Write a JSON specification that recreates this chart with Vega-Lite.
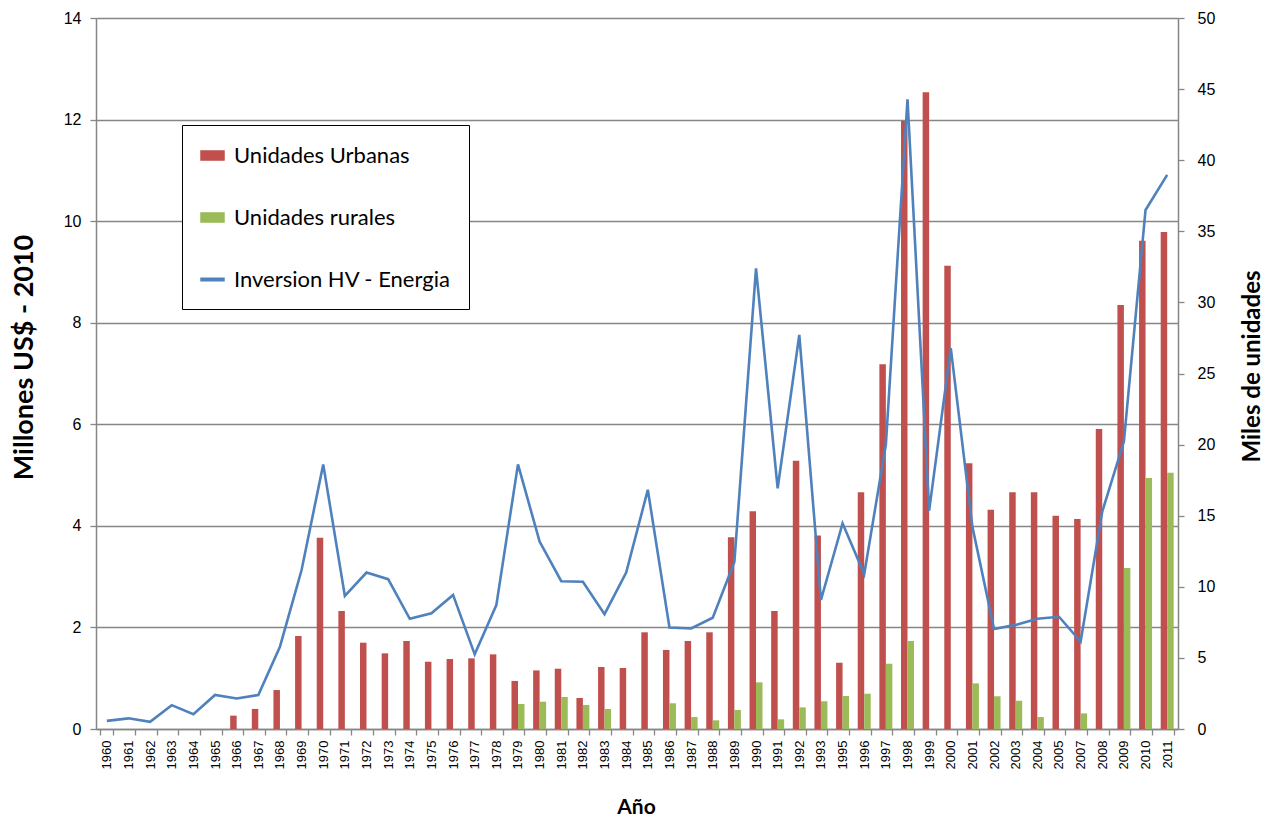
{
  "$schema": "https://vega.github.io/schema/vega-lite/v6.json",
  "width": 1082,
  "height": 711,
  "autosize": {"type": "none"},
  "padding": {"left": 96, "top": 18, "right": 89, "bottom": 90},
  "background": "white",
  "config": {
    "view": {"stroke": null},
    "axis": {
      "domainColor": "#868686",
      "domainWidth": 1.5,
      "tickColor": "#868686",
      "tickWidth": 1.3,
      "tickSize": 6,
      "gridColor": "#868686",
      "gridWidth": 1.4,
      "labelFont": "Liberation Sans",
      "labelFontSize": 16,
      "labelColor": "#000000",
      "titleFont": "Lato",
      "titleFontWeight": "bold",
      "titleFontSize": 26,
      "titleColor": "#000000"
    }
  },
  "datasets": {
    "unidades": [
      {"anio": "1966", "serie": "Unidades Urbanas", "miles": 0.94},
      {"anio": "1967", "serie": "Unidades Urbanas", "miles": 1.41},
      {"anio": "1968", "serie": "Unidades Urbanas", "miles": 2.74},
      {"anio": "1969", "serie": "Unidades Urbanas", "miles": 6.54},
      {"anio": "1970", "serie": "Unidades Urbanas", "miles": 13.45},
      {"anio": "1971", "serie": "Unidades Urbanas", "miles": 8.3},
      {"anio": "1972", "serie": "Unidades Urbanas", "miles": 6.07},
      {"anio": "1973", "serie": "Unidades Urbanas", "miles": 5.32},
      {"anio": "1974", "serie": "Unidades Urbanas", "miles": 6.19},
      {"anio": "1975", "serie": "Unidades Urbanas", "miles": 4.73},
      {"anio": "1976", "serie": "Unidades Urbanas", "miles": 4.92},
      {"anio": "1977", "serie": "Unidades Urbanas", "miles": 4.97},
      {"anio": "1978", "serie": "Unidades Urbanas", "miles": 5.25},
      {"anio": "1979", "serie": "Unidades Urbanas", "miles": 3.38},
      {"anio": "1980", "serie": "Unidades Urbanas", "miles": 4.12},
      {"anio": "1981", "serie": "Unidades Urbanas", "miles": 4.24},
      {"anio": "1982", "serie": "Unidades Urbanas", "miles": 2.18},
      {"anio": "1983", "serie": "Unidades Urbanas", "miles": 4.36},
      {"anio": "1984", "serie": "Unidades Urbanas", "miles": 4.29},
      {"anio": "1985", "serie": "Unidades Urbanas", "miles": 6.8},
      {"anio": "1986", "serie": "Unidades Urbanas", "miles": 5.56},
      {"anio": "1987", "serie": "Unidades Urbanas", "miles": 6.19},
      {"anio": "1988", "serie": "Unidades Urbanas", "miles": 6.8},
      {"anio": "1989", "serie": "Unidades Urbanas", "miles": 13.48},
      {"anio": "1990", "serie": "Unidades Urbanas", "miles": 15.31},
      {"anio": "1991", "serie": "Unidades Urbanas", "miles": 8.3},
      {"anio": "1992", "serie": "Unidades Urbanas", "miles": 18.87},
      {"anio": "1993", "serie": "Unidades Urbanas", "miles": 13.6},
      {"anio": "1995", "serie": "Unidades Urbanas", "miles": 4.66},
      {"anio": "1996", "serie": "Unidades Urbanas", "miles": 16.65},
      {"anio": "1997", "serie": "Unidades Urbanas", "miles": 25.65},
      {"anio": "1998", "serie": "Unidades Urbanas", "miles": 42.76},
      {"anio": "1999", "serie": "Unidades Urbanas", "miles": 44.77},
      {"anio": "2000", "serie": "Unidades Urbanas", "miles": 32.58},
      {"anio": "2001", "serie": "Unidades Urbanas", "miles": 18.68},
      {"anio": "2002", "serie": "Unidades Urbanas", "miles": 15.42},
      {"anio": "2003", "serie": "Unidades Urbanas", "miles": 16.65},
      {"anio": "2004", "serie": "Unidades Urbanas", "miles": 16.65},
      {"anio": "2005", "serie": "Unidades Urbanas", "miles": 15.0},
      {"anio": "2007", "serie": "Unidades Urbanas", "miles": 14.77},
      {"anio": "2008", "serie": "Unidades Urbanas", "miles": 21.1},
      {"anio": "2009", "serie": "Unidades Urbanas", "miles": 29.82},
      {"anio": "2010", "serie": "Unidades Urbanas", "miles": 34.34},
      {"anio": "2011", "serie": "Unidades Urbanas", "miles": 34.95},
      {"anio": "1979", "serie": "Unidades rurales", "miles": 1.76},
      {"anio": "1980", "serie": "Unidades rurales", "miles": 1.92},
      {"anio": "1981", "serie": "Unidades rurales", "miles": 2.25},
      {"anio": "1982", "serie": "Unidades rurales", "miles": 1.69},
      {"anio": "1983", "serie": "Unidades rurales", "miles": 1.41},
      {"anio": "1986", "serie": "Unidades rurales", "miles": 1.81},
      {"anio": "1987", "serie": "Unidades rurales", "miles": 0.84},
      {"anio": "1988", "serie": "Unidades rurales", "miles": 0.61},
      {"anio": "1989", "serie": "Unidades rurales", "miles": 1.34},
      {"anio": "1990", "serie": "Unidades rurales", "miles": 3.28},
      {"anio": "1991", "serie": "Unidades rurales", "miles": 0.68},
      {"anio": "1992", "serie": "Unidades rurales", "miles": 1.52},
      {"anio": "1993", "serie": "Unidades rurales", "miles": 1.95},
      {"anio": "1995", "serie": "Unidades rurales", "miles": 2.32},
      {"anio": "1996", "serie": "Unidades rurales", "miles": 2.48},
      {"anio": "1997", "serie": "Unidades rurales", "miles": 4.59},
      {"anio": "1998", "serie": "Unidades rurales", "miles": 6.19},
      {"anio": "2001", "serie": "Unidades rurales", "miles": 3.21},
      {"anio": "2002", "serie": "Unidades rurales", "miles": 2.3},
      {"anio": "2003", "serie": "Unidades rurales", "miles": 1.99},
      {"anio": "2004", "serie": "Unidades rurales", "miles": 0.84},
      {"anio": "2007", "serie": "Unidades rurales", "miles": 1.1},
      {"anio": "2009", "serie": "Unidades rurales", "miles": 11.32},
      {"anio": "2010", "serie": "Unidades rurales", "miles": 17.65},
      {"anio": "2011", "serie": "Unidades rurales", "miles": 18.02}
    ],
    "inversion": [
      {"anio": "1960", "millones": 0.16},
      {"anio": "1961", "millones": 0.21},
      {"anio": "1962", "millones": 0.14},
      {"anio": "1963", "millones": 0.47},
      {"anio": "1964", "millones": 0.29},
      {"anio": "1965", "millones": 0.67},
      {"anio": "1966", "millones": 0.6},
      {"anio": "1967", "millones": 0.67},
      {"anio": "1968", "millones": 1.62},
      {"anio": "1969", "millones": 3.13},
      {"anio": "1970", "millones": 5.21},
      {"anio": "1971", "millones": 2.62},
      {"anio": "1972", "millones": 3.08},
      {"anio": "1973", "millones": 2.95},
      {"anio": "1974", "millones": 2.17},
      {"anio": "1975", "millones": 2.28},
      {"anio": "1976", "millones": 2.64},
      {"anio": "1977", "millones": 1.47},
      {"anio": "1978", "millones": 2.44},
      {"anio": "1979", "millones": 5.21},
      {"anio": "1980", "millones": 3.69},
      {"anio": "1981", "millones": 2.91},
      {"anio": "1982", "millones": 2.9},
      {"anio": "1983", "millones": 2.26},
      {"anio": "1984", "millones": 3.08},
      {"anio": "1985", "millones": 4.71},
      {"anio": "1986", "millones": 2.0},
      {"anio": "1987", "millones": 1.98},
      {"anio": "1988", "millones": 2.19},
      {"anio": "1989", "millones": 3.29},
      {"anio": "1990", "millones": 9.07},
      {"anio": "1991", "millones": 4.74},
      {"anio": "1992", "millones": 7.76},
      {"anio": "1993", "millones": 2.54},
      {"anio": "1995", "millones": 4.05},
      {"anio": "1996", "millones": 3.05},
      {"anio": "1997", "millones": 5.6},
      {"anio": "1998", "millones": 12.4},
      {"anio": "1999", "millones": 4.3},
      {"anio": "2000", "millones": 7.5},
      {"anio": "2001", "millones": 3.98},
      {"anio": "2002", "millones": 1.97},
      {"anio": "2003", "millones": 2.05},
      {"anio": "2004", "millones": 2.17},
      {"anio": "2005", "millones": 2.21},
      {"anio": "2007", "millones": 1.72},
      {"anio": "2008", "millones": 4.28},
      {"anio": "2009", "millones": 5.66},
      {"anio": "2010", "millones": 10.22},
      {"anio": "2011", "millones": 10.91}
    ]
  },
  "layer": [
    {
      "data": {"name": "unidades"},
      "mark": {"type": "bar"},
      "encoding": {
        "x": {
          "field": "anio",
          "type": "nominal",
          "scale": {
            "domain": ["1960","1961","1962","1963","1964","1965","1966","1967","1968","1969","1970","1971","1972","1973","1974","1975","1976","1977","1978","1979","1980","1981","1982","1983","1984","1985","1986","1987","1988","1989","1990","1991","1992","1993","1995","1996","1997","1998","1999","2000","2001","2002","2003","2004","2005","2007","2008","2009","2010","2011"],
            "paddingInner": 0.4,
            "paddingOuter": 0.2
          },
          "axis": {
            "title": "Año",
            "labelAngle": -90,
            "labelFontSize": 13,
            "labelPadding": 5,
            "tickBand": "extent",
            "titleFontSize": 21,
            "titleX": 540,
            "titleY": 78,
            "titleBaseline": "middle",
            "titleAlign": "center"
          }
        },
        "xOffset": {"field": "serie", "scale": {"domain": ["Unidades Urbanas", "Unidades rurales"]}},
        "y": {
          "field": "miles",
          "type": "quantitative",
          "scale": {"domain": [0, 50], "nice": false},
          "axis": {
            "orient": "right",
            "title": "Miles de unidades",
            "values": [0, 5, 10, 15, 20, 25, 30, 35, 40, 45, 50],
            "grid": false,
            "labelFontSize": 16,
            "labelPadding": 13,
            "titleFontSize": 24,
            "titleAngle": -90,
            "titleX": 74,
            "titleY": 348,
            "titleAlign": "center",
            "titleBaseline": "middle"
          }
        },
        "color": {
          "field": "serie",
          "type": "nominal",
          "scale": {
            "domain": ["Unidades Urbanas", "Unidades rurales", "Inversion HV - Energia"],
            "range": ["#C0504D", "#9BBB59", "#4F81BD"]
          },
          "legend": {
            "title": null,
            "orient": "none",
            "legendX": 86,
            "legendY": 107,
            "direction": "vertical",
            "padding": 18,
            "strokeColor": "#000000",
            "fillColor": "#ffffff",
            "labelFont": "Lato",
            "labelFontSize": 22,
            "labelColor": "#000000",
            "labelOffset": 9,
            "symbolSize": 529,
            "rowPadding": 38,
            "labelLimit": 400,
            "encode": {
              "symbols": {
                "update": {
                  "shape": {"signal": "datum.value === 'Inversion HV - Energia' ? 'M-1,-0.11L1,-0.11L1,0.11L-1,0.11Z' : 'M-1,-0.4L1,-0.4L1,0.4L-1,0.4Z'"},
                  "fill": {"signal": "scale('color', datum.value)"},
                  "stroke": {"value": "transparent"},
                  "opacity": {"value": 1}
                }
              }
            }
          }
        }
      }
    },
    {
      "data": {"name": "inversion"},
      "mark": {"type": "line", "strokeWidth": 2.6},
      "encoding": {
        "x": {"field": "anio", "type": "nominal"},
        "y": {
          "field": "millones",
          "type": "quantitative",
          "scale": {"domain": [0, 14], "nice": false},
          "axis": {
            "orient": "left",
            "title": "Millones US$ - 2010",
            "values": [0, 2, 4, 6, 8, 10, 12, 14],
            "grid": true,
            "labelFontSize": 16,
            "labelPadding": 9,
            "titleFontSize": 27,
            "titleAngle": -90,
            "titleX": -72,
            "titleY": 339,
            "titleAlign": "center",
            "titleBaseline": "middle"
          }
        },
        "color": {"datum": "Inversion HV - Energia"}
      }
    }
  ],
  "resolve": {"scale": {"y": "independent"}}
}
